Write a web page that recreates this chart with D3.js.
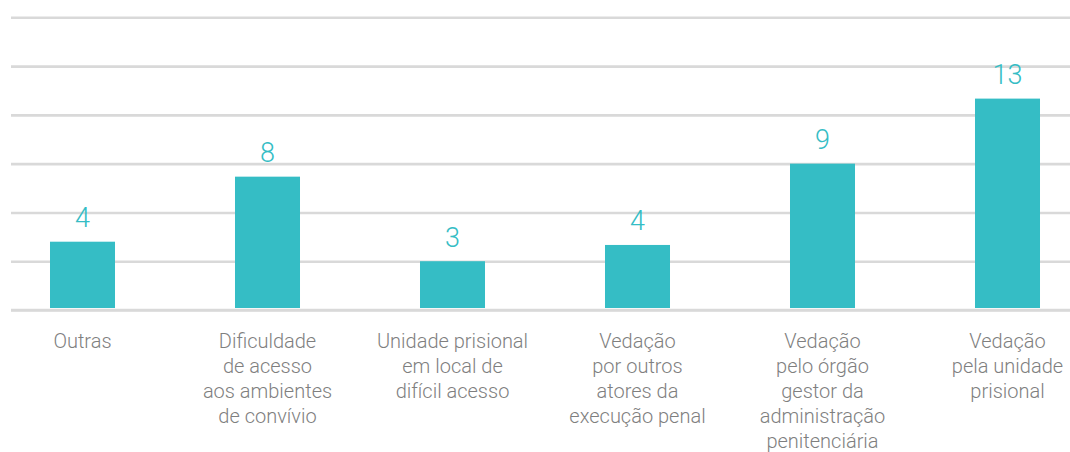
<!DOCTYPE html>
<html>
<head>
<meta charset="utf-8">
<script src="https://cdn.jsdelivr.net/npm/d3@7"></script>
<style>
  html, body { margin: 0; padding: 0; background: #ffffff; }
  svg { display: block; }
</style>
</head>
<body>
<svg id="chart" width="1070" height="452"></svg>
<script>
const categories = [
  ["Outras"],
  ["Dificuldade", "de acesso", "aos ambientes", "de convívio"],
  ["Unidade prisional", "em local de", "difícil acesso"],
  ["Vedação", "por outros", "atores da", "execução penal"],
  ["Vedação", "pelo órgão", "gestor da", "administração", "penitenciária"],
  ["Vedação", "pela unidade", "prisional"]
];
const categoryKeys = categories.map(c => c.join(" "));
const values = [4.2, 8.2, 3, 4, 9, 13];
const gridTicks = [0, 3, 6, 9, 12, 15, 18];

const W = 1070, H = 452;
const barColor = "#35bdc5";
const svg = d3.select("#chart");

const x = d3.scaleBand()
  .domain(categoryKeys)
  .range([-10, 1100])
  .paddingInner(0.6486)
  .paddingOuter(0.3243);

const y = d3.scaleLinear()
  .domain([0, 18])
  .range([310, 17.3]);

// gridlines (behind bars)
const grid = svg.append("g")
  .attr("transform", "translate(11,0)")
  .call(d3.axisLeft(y).tickValues(gridTicks).tickSize(-(W - 11)).tickFormat(""));
grid.select(".domain").remove();
grid.selectAll(".tick line")
  .attr("stroke", "#d9d9d9")
  .attr("stroke-width", 2.6);

// bars
svg.append("g")
  .selectAll("rect")
  .data(values)
  .join("rect")
  .attr("x", (d, i) => x(categoryKeys[i]))
  .attr("width", x.bandwidth())
  .attr("y", d => y(d))
  .attr("height", d => y(0) - 2 - y(d))
  .attr("fill", barColor);

// baseline on top
svg.append("line")
  .attr("x1", 11).attr("x2", W)
  .attr("y1", y(0)).attr("y2", y(0))
  .attr("stroke", "#d9d9d9")
  .attr("stroke-width", 2.6);

// value labels
const fmt = d3.format(".0f");
svg.append("g")
  .selectAll("text")
  .data(values)
  .join("text")
  .attr("x", (d, i) => x(categoryKeys[i]) + x.bandwidth() / 2)
  .attr("y", d => y(d) - 14.5)
  .attr("text-anchor", "middle")
  .attr("font-family", "Roboto, 'Noto Sans', sans-serif")
  .attr("font-weight", 300)
  .attr("font-size", 27)
  .attr("fill", barColor)
  .text(d => fmt(d));

// category labels
const catG = svg.append("g")
  .attr("font-family", "Roboto, 'Noto Sans', sans-serif")
  .attr("font-weight", 300)
  .attr("font-size", 20)
  .attr("fill", "#7f7f7f");

categories.forEach((lines, i) => {
  const cx = x(categoryKeys[i]) + x.bandwidth() / 2;
  const t = catG.append("text")
    .attr("x", cx)
    .attr("y", 347.5)
    .attr("text-anchor", "middle");
  lines.forEach((ln, j) => {
    t.append("tspan")
      .attr("x", cx)
      .attr("dy", j === 0 ? 0 : 25.2)
      .text(ln);
  });
});
</script>
</body>
</html>
